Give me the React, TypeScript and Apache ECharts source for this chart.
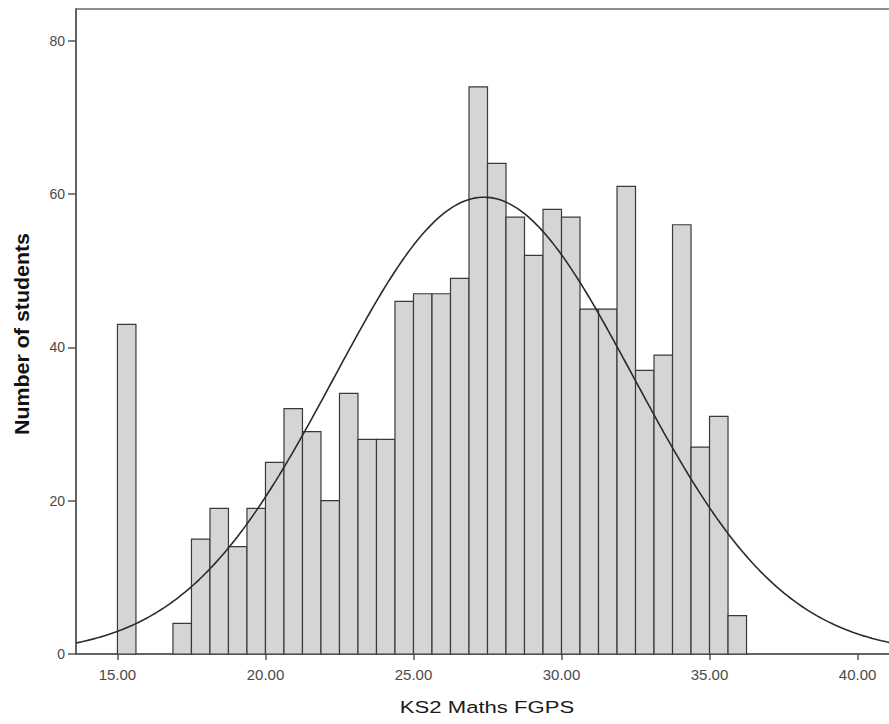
import React, { useEffect, useRef } from "react";
import * as echarts from "echarts";

// Histogram bins (lower edges) and counts
const binLowerEdges = [
  15.0, 16.875, 17.5, 18.125, 18.75, 19.375, 20.0, 20.625, 21.25, 21.875, 22.5,
  23.125, 23.75, 24.375, 25.0, 25.625, 26.25, 26.875, 27.5, 28.125, 28.75,
  29.375, 30.0, 30.625, 31.25, 31.875, 32.5, 33.125, 33.75, 34.375, 35.0, 35.625,
];
const binCounts = [
  43, 4, 15, 19, 14, 19, 25, 32, 29, 20, 34, 28, 28, 46, 47, 47, 49, 74, 64, 57,
  52, 58, 57, 45, 45, 61, 37, 39, 56, 27, 31, 5,
];
const binWidth = 0.625;

// Fitted normal curve parameters
const curveMean = 27.38;
const curveSd = 5.05;

const xTickValues = [15, 20, 25, 30, 35, 40];
const yTickValues = [0, 20, 40, 60, 80];

const xAxisTitle = "KS2 Maths FGPS";
const yAxisTitle = "Number of students";

const X_MIN = 13.6;
const X_MAX = 41.4;
const Y_MAX = 84.15;

export default function App() {
  const ref = useRef<HTMLDivElement>(null);

  useEffect(() => {
    if (!ref.current) return;
    const chart = echarts.init(ref.current, null, { renderer: "svg" });

    const histData = binLowerEdges.map((lo, i) => [lo, lo + binWidth, binCounts[i]]);
    const total = binCounts.reduce((a, b) => a + b, 0);
    const peak = (total * binWidth) / (curveSd * Math.sqrt(2 * Math.PI));
    const curve: number[][] = [];
    for (let k = 0; k <= 280; k++) {
      const x = X_MIN + (k * (X_MAX - X_MIN)) / 280;
      const z = (x - curveMean) / curveSd;
      curve.push([x, peak * Math.exp(-0.5 * z * z)]);
    }

    chart.setOption({
      animation: false,
      backgroundColor: "#ffffff",
      grid: {
        left: 76,
        top: 9,
        width: 823,
        height: 645,
        show: true,
        borderColor: "#6a6a6a",
        borderWidth: 1.5,
        backgroundColor: "transparent",
      },
      xAxis: {
        type: "value",
        min: X_MIN,
        max: X_MAX,
        splitLine: { show: false },
        axisLine: { show: true, onZero: false, lineStyle: { color: "#555", width: 1.5 } },
        axisTick: {
          show: true,
          length: 6,
          customValues: xTickValues,
          lineStyle: { color: "#555", width: 1.5 },
        },
        axisLabel: {
          customValues: xTickValues,
          formatter: (v: number) => v.toFixed(2),
          color: "#4a4a4a",
          fontSize: 15,
          fontFamily: "Liberation Sans, Arial, sans-serif",
          margin: 13,
        },
      },
      yAxis: {
        type: "value",
        min: 0,
        max: Y_MAX,
        splitLine: { show: false },
        axisLine: { show: true, lineStyle: { color: "#555", width: 1.5 } },
        axisTick: {
          show: true,
          length: 8,
          customValues: yTickValues,
          lineStyle: { color: "#555", width: 1.5 },
        },
        axisLabel: {
          customValues: yTickValues,
          color: "#4a4a4a",
          fontSize: 14,
          fontFamily: "Liberation Sans, Arial, sans-serif",
          margin: 11,
        },
      },
      series: [
        {
          type: "custom",
          data: histData,
          encode: { x: [0, 1], y: 2 },
          z: 2,
          renderItem: (_params: any, api: any) => {
            const lo = api.value(0);
            const hi = api.value(1);
            const c = api.value(2);
            const p0 = api.coord([lo, c]);
            const p1 = api.coord([hi, 0]);
            return {
              type: "rect",
              shape: { x: p0[0], y: p0[1], width: p1[0] - p0[0], height: p1[1] - p0[1] },
              style: { fill: "#d5d5d5", stroke: "#3a3a3a", lineWidth: 1.2 },
            };
          },
        },
        {
          type: "line",
          data: curve,
          showSymbol: false,
          symbol: "none",
          z: 3,
          lineStyle: { color: "#2a2a2a", width: 1.6 },
        },
      ],
      graphic: [
        {
          type: "text",
          x: 22,
          y: 334,
          rotation: Math.PI / 2,
          scaleX: 1.07,
          style: {
            text: yAxisTitle,
            fontSize: 20,
            fontWeight: "bold",
            fontFamily: "Liberation Sans, Arial, sans-serif",
            fill: "#111",
            align: "center",
            verticalAlign: "middle",
          },
        },
        {
          type: "text",
          x: 487,
          y: 707,
          scaleX: 1.3,
          style: {
            text: xAxisTitle,
            fontSize: 17,
            fontFamily: "Liberation Sans, Arial, sans-serif",
            fill: "#1a1a1a",
            align: "center",
            verticalAlign: "middle",
          },
        },
      ],
    });

    return () => chart.dispose();
  }, []);

  return (
    <div
      style={{
        position: "fixed",
        left: 0,
        top: 0,
        width: 889,
        height: 724,
        overflow: "hidden",
        background: "#fff",
      }}
    >
      <div ref={ref} style={{ width: 900, height: 724 }} />
    </div>
  );
}
